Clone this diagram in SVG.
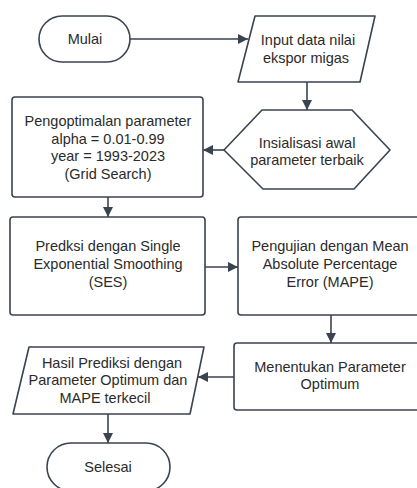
<svg xmlns="http://www.w3.org/2000/svg" width="417" height="488" viewBox="0 0 417 488">
<defs>
<marker id="ah" viewBox="0 0 10 10" refX="10" refY="5" markerWidth="10" markerHeight="10" markerUnits="userSpaceOnUse" orient="auto">
<path d="M0,0 L10,5 L0,10 Z" fill="#3a4350"/>
</marker>
</defs>
<style>
.s{fill:#ffffff;stroke:#3a4350;stroke-width:1.6;stroke-linejoin:round}
.t{font-family:"Liberation Sans",Arial,sans-serif;font-size:14.5px;fill:#2b2b2b;text-anchor:middle}
.c{fill:none;stroke:#3a4350;stroke-width:1.6;marker-end:url(#ah)}
</style>
<rect width="417" height="488" fill="#ffffff"/>
<g id="connectors">
<line class="c" x1="130" y1="39" x2="248" y2="39"/>
<line class="c" x1="307" y1="82" x2="307" y2="110"/>
<line class="c" x1="224" y1="150" x2="203" y2="150"/>
<line class="c" x1="108" y1="197" x2="108" y2="217"/>
<line class="c" x1="205" y1="267" x2="238" y2="267"/>
<line class="c" x1="331" y1="315" x2="331" y2="343"/>
<line class="c" x1="234" y1="377" x2="198" y2="377"/>
<line class="c" x1="108" y1="414" x2="108" y2="443"/>
</g>
<g id="mulai">
<rect class="s" x="39" y="16" width="91" height="46" rx="23" ry="23"/>
<text class="t" x="85" y="44">Mulai</text>
</g>
<g id="input">
<path class="s" d="M255,16 L375,16 L360,82 L238,82 Z"/>
<text class="t" x="308" y="45">Input data nilai</text>
<text class="t" x="306" y="63">ekspor migas</text>
</g>
<g id="insialisasi">
<path class="s" d="M262,110 L352,110 L390,150 L354,189 L263,189 L224,150 Z"/>
<text class="t" x="307" y="148">Insialisasi awal</text>
<text class="t" x="307" y="165">parameter terbaik</text>
</g>
<g id="pengoptimalan">
<rect class="s" x="12" y="97" width="191" height="100" rx="3"/>
<text class="t" x="108" y="126">Pengoptimalan parameter</text>
<text class="t" x="108" y="144">alpha = 0.01-0.99</text>
<text class="t" x="108" y="161">year = 1993-2023</text>
<text class="t" x="108" y="179">(Grid Search)</text>
</g>
<g id="prediksi">
<rect class="s" x="10" y="217" width="195" height="98" rx="3"/>
<text class="t" x="108" y="251">Predksi dengan Single</text>
<text class="t" x="108" y="269">Exponential Smoothing</text>
<text class="t" x="108" y="287">(SES)</text>
</g>
<g id="pengujian">
<rect class="s" x="238" y="217" width="185" height="98" rx="3"/>
<text class="t" x="330" y="251">Pengujian dengan Mean</text>
<text class="t" x="330" y="269">Absolute Percentage</text>
<text class="t" x="330" y="287">Error (MAPE)</text>
</g>
<g id="menentukan">
<rect class="s" x="234" y="343" width="189" height="67" rx="3"/>
<text class="t" x="330" y="372">Menentukan Parameter</text>
<text class="t" x="330" y="389">Optimum</text>
</g>
<g id="hasil">
<path class="s" d="M29,347 L204,347 L190,414 L13,414 Z"/>
<text class="t" x="112" y="368">Hasil Prediksi dengan</text>
<text class="t" x="108" y="385">Parameter Optimum dan</text>
<text class="t" x="105" y="403">MAPE terkecil</text>
</g>
<g id="selesai">
<rect class="s" x="47" y="443" width="123" height="48" rx="24" ry="24"/>
<text class="t" x="108" y="472">Selesai</text>
</g>
</svg>
